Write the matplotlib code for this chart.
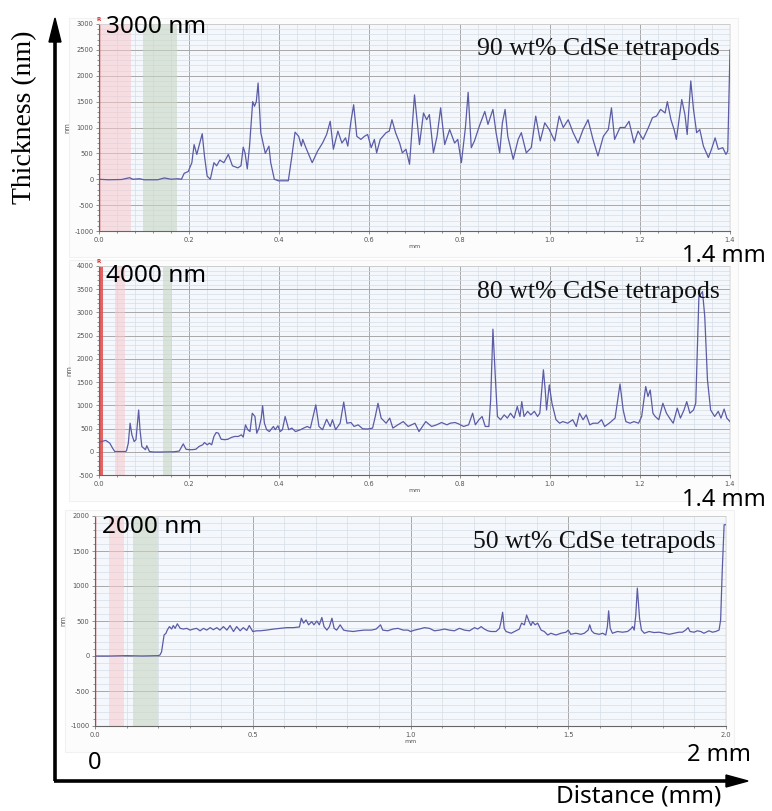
import matplotlib
matplotlib.use("Agg")
import matplotlib.pyplot as plt
from matplotlib.lines import Line2D
from matplotlib.ticker import MultipleLocator

# ---------------- data ----------------
p1_x = [0.0, 0.02, 0.05, 0.068, 0.075, 0.09, 0.10, 0.13, 0.145, 0.16, 0.175, 0.183,
        0.189, 0.198, 0.206, 0.211, 0.217, 0.229, 0.234, 0.240, 0.247, 0.255, 0.261, 0.268,
        0.277, 0.287, 0.296, 0.308, 0.315, 0.320, 0.324, 0.329, 0.334, 0.341, 0.345, 0.349,
        0.353, 0.359, 0.364, 0.369, 0.377, 0.381, 0.389, 0.398, 0.420, 0.428, 0.435, 0.443,
        0.449, 0.452, 0.459, 0.473, 0.485, 0.496, 0.505, 0.513, 0.520, 0.530, 0.539, 0.547,
        0.552, 0.559, 0.565, 0.572, 0.581, 0.589, 0.596, 0.604, 0.611, 0.616, 0.624, 0.637,
        0.644, 0.650, 0.658, 0.667, 0.673, 0.681, 0.689, 0.700, 0.711, 0.720, 0.727, 0.733,
        0.742, 0.750, 0.758, 0.767, 0.778, 0.789, 0.796, 0.804, 0.813, 0.819, 0.826, 0.833,
        0.844, 0.856, 0.863, 0.874, 0.881, 0.889, 0.895, 0.901, 0.907, 0.919, 0.930, 0.937,
        0.948, 0.959, 0.969, 0.979, 0.989, 0.999, 1.011, 1.021, 1.030, 1.041, 1.052, 1.063,
        1.074, 1.085, 1.096, 1.107, 1.119, 1.130, 1.137, 1.144, 1.156, 1.167, 1.176, 1.187,
        1.196, 1.207, 1.219, 1.228, 1.237, 1.246, 1.256, 1.261, 1.269, 1.276, 1.281, 1.293,
        1.300, 1.305, 1.313, 1.319, 1.326, 1.333, 1.341, 1.352, 1.359, 1.367, 1.374, 1.384,
        1.391, 1.395, 1.398, 1.400]
p1_y = [0, -10, -5, 30, 0, 10, -10, -10, 25, 0, 10, 0,
        115, 150, 320, 670, 480, 880, 450, 60, 0, 320, 260, 370,
        320, 480, 260, 220, 260, 620, 510, 200, 640, 1500, 1410, 1500,
        1860, 900, 700, 500, 640, 320, 0, -30, -30, 450, 910, 830,
        640, 770, 610, 320, 545, 700, 865, 1120, 580, 930, 700, 800,
        640, 1120, 1440, 830, 770, 830, 865, 610, 770, 510, 770, 900,
        930, 1150, 900, 700, 510, 580, 290, 1630, 670, 1280, 1150, 1250,
        510, 830, 1380, 670, 960, 700, 770, 320, 1000, 1680, 610, 740,
        1030, 1310, 1060, 1350, 900, 510, 1090, 1350, 830, 385, 770, 900,
        510, 610, 1220, 740, 1090, 960, 740, 1220, 1000, 1150, 900, 700,
        960, 1150, 770, 450, 830, 960, 1380, 770, 1000, 1000, 1120, 700,
        930, 770, 1000, 1190, 1220, 1350, 1280, 1500, 1150, 960, 770, 1540,
        1250, 865, 1900, 1350, 900, 960, 640, 420, 580, 800, 580, 610,
        480, 545, 1730, 2500]

p2_x = [0.0, 0.005, 0.015, 0.024, 0.030, 0.035, 0.043, 0.058, 0.061, 0.065, 0.069, 0.073,
        0.078, 0.082, 0.088, 0.091, 0.095, 0.103, 0.106, 0.112, 0.121, 0.136, 0.166, 0.178,
        0.183, 0.187, 0.193, 0.200, 0.207, 0.215, 0.222, 0.230, 0.234, 0.240, 0.245, 0.250,
        0.255, 0.260, 0.265, 0.271, 0.279, 0.286, 0.294, 0.301, 0.309, 0.316, 0.320, 0.325,
        0.330, 0.335, 0.340, 0.346, 0.350, 0.355, 0.360, 0.363, 0.367, 0.372, 0.378, 0.384,
        0.387, 0.391, 0.397, 0.402, 0.407, 0.413, 0.421, 0.428, 0.436, 0.443,
        0.447, 0.454, 0.462, 0.469, 0.481, 0.488, 0.496, 0.505, 0.513, 0.518, 0.525, 0.535,
        0.543, 0.550, 0.559, 0.566, 0.575, 0.585, 0.596, 0.607, 0.613, 0.619, 0.626, 0.637,
        0.645, 0.652, 0.663, 0.675, 0.686, 0.701, 0.710, 0.725, 0.738, 0.749, 0.760, 0.772,
        0.779, 0.790, 0.798, 0.809, 0.820, 0.829, 0.835, 0.843, 0.850, 0.857, 0.865, 0.869,
        0.874, 0.880, 0.884, 0.891, 0.899, 0.906, 0.913, 0.921, 0.928, 0.934, 0.938, 0.943,
        0.951, 0.958, 0.966, 0.973, 0.978, 0.986, 0.990, 0.993, 0.999, 1.005, 1.014, 1.022,
        1.029, 1.040, 1.051, 1.059, 1.066, 1.074, 1.081, 1.089, 1.096, 1.107, 1.115, 1.122,
        1.134, 1.145, 1.156, 1.163, 1.169, 1.178, 1.187, 1.197, 1.204, 1.213, 1.218, 1.223,
        1.229, 1.234, 1.242, 1.251, 1.259, 1.266, 1.274, 1.283, 1.290, 1.298, 1.304, 1.311,
        1.319, 1.324, 1.331, 1.339, 1.344, 1.350, 1.357, 1.366, 1.374, 1.380, 1.387, 1.393,
        1.400]
p2_y = [200, 220, 245, 185, 80, 5, 5, 5, 20, 185, 615, 365,
        220, 260, 900, 475, 115, 45, 130, 5, -5, -5, 0, 15,
        100, 170, 55, 45, 45, 55, 115, 150, 200, 150, 185, 150,
        330, 415, 400, 270, 260, 270, 310, 330, 330, 365, 315, 580,
        475, 435, 830, 760, 400, 510, 725, 990, 615, 475, 435, 510,
        545, 475, 560, 435, 475, 760, 475, 510, 435, 460,
        475, 510, 545, 510, 1010, 545, 475, 700, 545, 690, 475, 615,
        1070, 615, 630, 545, 580, 495, 490, 510, 760, 1045, 725, 615,
        725, 510, 580, 650, 545, 615, 435, 650, 545, 580, 630, 580,
        615, 630, 600, 545, 580, 830, 580, 690, 760, 545, 545, 1120,
        2640, 1480, 760, 690, 795, 725, 830, 725, 975, 760, 1080, 760,
        870, 795, 870, 760, 830, 1765, 1330, 900, 1440, 1045, 690, 615,
        650, 615, 690, 545, 830, 690, 795, 580, 615, 615, 690, 545,
        630, 725, 1460, 900, 650, 615, 650, 615, 760, 1405, 1190, 1330,
        830, 760, 690, 1045, 830, 725, 615, 940, 725, 900, 1080, 830,
        900, 1045, 3340, 3450, 2910, 1550, 900, 760, 870, 725, 920, 725,
        650]

p3_x = [0.0, 0.05, 0.10, 0.15, 0.20, 0.206, 0.211, 0.219, 0.225, 0.229, 0.236, 0.243,
        0.248, 0.254, 0.261, 0.270, 0.280, 0.291, 0.301, 0.312, 0.322, 0.333, 0.344, 0.354,
        0.365, 0.375, 0.386, 0.396, 0.407, 0.418, 0.428, 0.439, 0.449, 0.460, 0.470, 0.481,
        0.489, 0.500, 0.513, 0.523, 0.544, 0.566, 0.587, 0.608, 0.629, 0.648, 0.654, 0.661,
        0.669, 0.677, 0.687, 0.694, 0.703, 0.711, 0.719, 0.726, 0.735, 0.743, 0.751, 0.758,
        0.766, 0.777, 0.788, 0.798, 0.819, 0.833, 0.854, 0.876, 0.891, 0.905, 0.912, 0.928,
        0.944, 0.960, 0.977, 0.992, 1.000, 1.013, 1.028, 1.044, 1.060, 1.076, 1.092, 1.108,
        1.123, 1.139, 1.155, 1.171, 1.187, 1.203, 1.213, 1.224, 1.234, 1.245, 1.255, 1.271,
        1.282, 1.287, 1.292, 1.297, 1.303, 1.319, 1.334, 1.345, 1.352, 1.361, 1.368, 1.377,
        1.382, 1.387, 1.395, 1.403, 1.414, 1.424, 1.435, 1.445, 1.461, 1.477, 1.493, 1.500,
        1.508, 1.524, 1.540, 1.551, 1.563, 1.568, 1.574, 1.582, 1.598, 1.609, 1.619, 1.624,
        1.628, 1.633, 1.640, 1.656, 1.672, 1.688, 1.698, 1.704, 1.709, 1.714, 1.719, 1.726,
        1.732, 1.741, 1.756, 1.772, 1.788, 1.804, 1.820, 1.835, 1.851, 1.862, 1.872, 1.880,
        1.886, 1.899, 1.909, 1.920, 1.930, 1.946, 1.957, 1.967, 1.978, 1.983, 1.988, 1.994,
        1.998]
p3_y = [0, 0, 5, 0, 5, 15, 60, 300, 325, 370, 420, 385,
        435, 395, 460, 395, 385, 395, 370, 385, 395, 360, 395, 370,
        405, 375, 405, 370, 420, 370, 435, 350, 420, 360, 405, 365,
        435, 350, 360, 360, 370, 385, 395, 405, 405, 415, 540, 470,
        515, 445, 490, 445, 500, 445, 550, 420, 370, 420, 540, 395,
        370, 445, 370, 360, 350, 360, 370, 370, 385, 445, 370, 360,
        385, 395, 370, 370, 350, 370, 385, 405, 395, 360, 370, 385,
        370, 360, 395, 370, 360, 405, 385, 420, 385, 360, 350, 350,
        395, 490, 625, 395, 350, 325, 360, 385, 470, 445, 585, 480,
        435, 490, 445, 470, 370, 350, 300, 325, 300, 325, 340, 370,
        310, 325, 310, 325, 370, 445, 360, 325, 310, 325, 300, 420,
        645, 395, 325, 350, 340, 350, 385, 420, 370, 585, 970, 540,
        370, 325, 350, 335, 340, 325, 310, 325, 340, 340, 370, 405,
        350, 340, 360, 350, 325, 360, 340, 350, 370, 515, 1207, 1875,
        1875]

panel_labels = ["90 wt% CdSe tetrapods", "80 wt% CdSe tetrapods", "50 wt% CdSe tetrapods"]
top_labels = ["3000 nm", "4000 nm", "2000 nm"]
end_labels = ["1.4 mm", "1.4 mm", "2 mm"]
y_limits = [(-1000, 3000), (-500, 4000), (-1000, 2000)]
x_limits = [(0, 1.4), (0, 1.4), (0, 2.0)]
pink_spans = [(0.0, 0.071), (0.035, 0.058), (0.045, 0.093)]
green_spans = [(0.097, 0.174), (0.142, 0.161), (0.122, 0.201)]
red_spans = [None, (0.0, 0.009), None]

W, H = 772, 811
fig = plt.figure(figsize=(W / 100, H / 100), dpi=100)
fig.patch.set_facecolor("white")

def fx(px):
    return px / W

def fy(py):
    return 1 - py / H

# axes boxes in pixel coordinates: left, top, right, bottom
boxes = [(99, 24, 730, 231), (99, 266, 730, 475), (95, 516, 726, 726)]
xs = [p1_x, p2_x, p3_x]
ys = [p1_y, p2_y, p3_y]
xmajor = [0.2, 0.2, 0.5]
xminor = [0.04, 0.04, 0.1]

line_col = "#5b5ba6"
for i, (l, t, r, b) in enumerate(boxes):
    # faint instrument frame
    fig.add_artist(plt.Rectangle((fx(l - 30), fy(b + 26)), fx(r + 8) - fx(l - 30),
                                 fy(t - 6) - fy(b + 26), transform=fig.transFigure,
                                 facecolor="#fcfcfc", edgecolor="#f1f1f1", lw=0.8, zorder=0))
    ax = fig.add_axes([fx(l), fy(b), fx(r) - fx(l), fy(t) - fy(b)])
    ax.set_facecolor("#f4f8fc")
    ax.set_xlim(*x_limits[i])
    ax.set_ylim(*y_limits[i])
    ax.xaxis.set_major_locator(MultipleLocator(xmajor[i]))
    ax.xaxis.set_minor_locator(MultipleLocator(xminor[i]))
    ax.yaxis.set_major_locator(MultipleLocator(500))
    ax.yaxis.set_minor_locator(MultipleLocator(100))
    ax.grid(which="major", color="#a8a8a8", lw=0.7)
    ax.grid(which="minor", color="#d6dde6", lw=0.5)
    ax.set_axisbelow(True)
    ax.tick_params(which="both", labelsize=4.8, labelcolor="#555555", color="#666666",
                   length=2, width=0.5, pad=2)
    ax.tick_params(which="minor", length=1.5)
    ax.xaxis.set_major_formatter(plt.FuncFormatter(lambda v, p: f"{v:.1f}"))
    ax.yaxis.set_major_formatter(plt.FuncFormatter(lambda v, p: f"{int(v)}"))
    for s in ["left", "bottom"]:
        ax.spines[s].set_color("#666666")
        ax.spines[s].set_linewidth(0.8)
    for s in ["top", "right"]:
        ax.spines[s].set_color("#dddddd")
        ax.spines[s].set_linewidth(0.5)
    ax.set_ylabel("nm", fontsize=4.8, color="#555555", labelpad=3)
    ax.set_xlabel("mm", fontsize=4.5, color="#555555", labelpad=1)

    ax.axvspan(*pink_spans[i], color="#f7c8cc", alpha=0.55, lw=0, zorder=1)
    ax.axvspan(*green_spans[i], color="#c9d6c4", alpha=0.6, lw=0, zorder=1)
    if red_spans[i] is not None:
        ax.axvspan(*red_spans[i], color="#e05555", alpha=0.9, lw=0, zorder=1)
    ax.axvline(x_limits[i][0], color="#e03030", lw=1.0, zorder=2)
    ax.axvline(x_limits[i][1], color="#8cc98c", lw=1.0, zorder=2)
    if i < 2:
        ax.text(0.0, 1.01, "R", transform=ax.transAxes, fontsize=4, color="#e03030",
                ha="center", va="bottom", fontweight="bold")

    ax.plot(xs[i], ys[i], color=line_col, lw=0.9, zorder=3, clip_on=True)

    ax.text(0.983, 0.93, panel_labels[i], transform=ax.transAxes, ha="right", va="top",
            fontsize=18.5, family=["Liberation Serif", "DejaVu Serif"], color="#111111", zorder=5)

# overlay annotations (sans)
sans = ["Noto Sans", "DejaVu Sans"]
fig.text(fx(106), fy(27), top_labels[0], fontsize=17.5, family=sans, va="center", ha="left")
fig.text(fx(106), fy(276), top_labels[1], fontsize=17.5, family=sans, va="center", ha="left")
fig.text(fx(102), fy(527), top_labels[2], fontsize=17.5, family=sans, va="center", ha="left")
fig.text(fx(766), fy(256), end_labels[0], fontsize=17, family=sans, va="center", ha="right")
fig.text(fx(766), fy(500), end_labels[1], fontsize=17, family=sans, va="center", ha="right")
fig.text(fx(751), fy(755), end_labels[2], fontsize=17, family=sans, va="center", ha="right")
fig.text(fx(95), fy(763), "0", fontsize=17, family=sans, va="center", ha="center")
fig.text(fx(721), fy(797), "Distance (mm)", fontsize=17.5, family=sans, va="center", ha="right")
fig.text(fx(25), fy(117), "Thickness (nm)", fontsize=20, family=["Liberation Serif", "DejaVu Serif"],
         va="center", ha="center", rotation=90)

# big axis arrows
fig.add_artist(Line2D([fx(55), fx(55)], [fy(781), fy(40)], transform=fig.transFigure,
                      color="black", lw=2.6, solid_capstyle="butt"))
fig.add_artist(Line2D([fx(54), fx(730)], [fy(781), fy(781)], transform=fig.transFigure,
                      color="black", lw=2.6, solid_capstyle="butt"))
fig.patches.append(plt.Polygon([[fx(55), fy(18)], [fx(49), fy(42)], [fx(61), fy(42)]],
                               closed=True, transform=fig.transFigure, color="black"))
fig.patches.append(plt.Polygon([[fx(748), fy(781)], [fx(726), fy(775)], [fx(726), fy(787)]],
                               closed=True, transform=fig.transFigure, color="black"))

fig.savefig("out.png", dpi=100)
